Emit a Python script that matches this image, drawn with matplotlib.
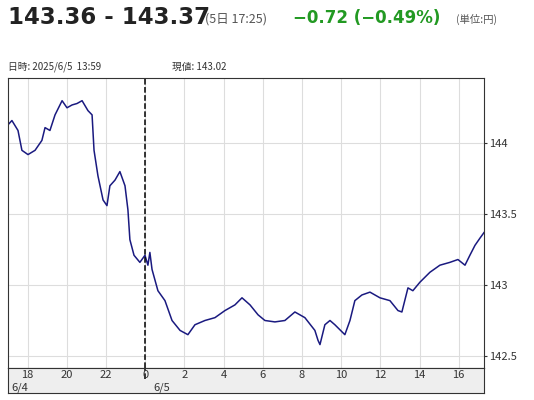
import matplotlib
matplotlib.use("Agg")
import matplotlib.pyplot as plt

plt.rcParams['font.family'] = ['Noto Sans CJK JP', 'DejaVu Sans']

# hours since 6/4 00:00 (24 = 6/5 0:00), price in yen
hours = [17.00, 17.20, 17.51, 17.71, 18.02, 18.38, 18.73, 18.89, 19.14, 19.40,
         19.76, 20.01, 20.27, 20.52, 20.78, 21.08, 21.29, 21.39, 21.59, 21.85,
         22.05, 22.20, 22.46, 22.71, 22.97, 23.12, 23.22, 23.43, 23.73, 23.99,
         24.14, 24.24, 24.35, 24.65, 25.01, 25.37, 25.78, 26.18, 26.54, 27.05,
         27.56, 28.07, 28.58, 28.94, 29.35, 29.76, 30.11, 30.62, 31.13, 31.64,
         32.15, 32.66, 32.82, 32.92, 33.17, 33.43, 33.68, 34.19, 34.45, 34.70,
         35.06, 35.47, 35.98, 36.49, 36.90, 37.10, 37.41, 37.66, 38.02, 38.53,
         39.04, 39.55, 39.96, 40.32, 40.57, 40.83, 41.08, 41.29]
price = [144.13, 144.16, 144.09, 143.95, 143.92, 143.95, 144.02, 144.11, 144.09, 144.20,
         144.30, 144.25, 144.27, 144.28, 144.30, 144.23, 144.20, 143.95, 143.77, 143.60,
         143.56, 143.70, 143.74, 143.80, 143.70, 143.53, 143.32, 143.21, 143.16, 143.21,
         143.14, 143.23, 143.11, 142.96, 142.89, 142.75, 142.68, 142.65, 142.72, 142.75,
         142.77, 142.82, 142.86, 142.91, 142.86, 142.79, 142.75, 142.74, 142.75, 142.81,
         142.77, 142.68, 142.61, 142.58, 142.72, 142.75, 142.72, 142.65, 142.75, 142.89,
         142.93, 142.95, 142.91, 142.89, 142.82, 142.81, 142.98, 142.96, 143.02, 143.09,
         143.14, 143.16, 143.18, 143.14, 143.21, 143.28, 143.33, 143.37]
xticks = [18, 20, 22, 24, 26, 28, 30, 32, 34, 36, 38, 40]
xlabels = ["18", "20", "22", "0", "2", "4", "6", "8", "10", "12", "14", "16"]
yticks = [142.5, 143.0, 143.5, 144.0]
ylabels = ["142.5", "143", "143.5", "144"]
X0, X1, Y0, Y1 = 17.0, 41.29, 142.415, 144.46

W, H = 534, 400
fig = plt.figure(figsize=(W / 100, H / 100), dpi=100)

def rect(l, t, r, b):
    return [l / W, 1 - b / H, (r - l) / W, (b - t) / H]

ax = fig.add_axes(rect(8, 78, 484, 368))
ax.plot(hours, price, color="#1a1a80", lw=1.1)
ax.set_xlim(X0, X1)
ax.set_ylim(Y0, Y1)
ax.set_xticks(xticks)
ax.set_xticklabels([])
ax.tick_params(axis="x", length=0)
ax.set_yticks(yticks)
ax.set_yticklabels(ylabels, fontsize=8, color="#333333")
ax.yaxis.tick_right()
ax.tick_params(axis="y", length=2, pad=2, colors="#333333")
ax.grid(color="#dddddd", lw=0.8)
ax.axvline(24, color="black", ls="--", lw=1.1)
for s in ax.spines.values():
    s.set_color("#333333")

band = fig.add_axes(rect(8, 368, 484, 393))
band.set_facecolor("#eeeeee")
band.set_xlim(X0, X1)
band.set_ylim(0, 1)
band.set_xticks([])
band.set_yticks([])
band.axvline(24, ymin=0.55, color="black", ls="--", lw=1.1)
for s in band.spines.values():
    s.set_color("#333333")
for x, lab in zip(xticks, xlabels):
    band.text(x, 0.72, lab, ha="center", va="center", fontsize=8, color="#333333")
band.text(17.15, 0.2, "6/4", ha="left", va="center", fontsize=8, color="#333333")
band.text(24.4, 0.2, "6/5", ha="left", va="center", fontsize=8, color="#333333")

fig.text(8 / W, 1 - 18 / H, "143.36 - 143.37", fontsize=16.5, fontweight="bold",
         color="#222222", va="center", family="DejaVu Sans")
fig.text(205 / W, 1 - 19 / H, "(5日 17:25)", fontsize=9, color="#555555", va="center")
fig.text(293 / W, 1 - 18 / H, "\u22120.72 (\u22120.49%)", fontsize=12, fontweight="bold",
         color="#229922", va="center", family="DejaVu Sans")
fig.text(456 / W, 1 - 19 / H, "(単位:円)", fontsize=7.5, color="#555555", va="center")
fig.text(8 / W, 1 - 67 / H, "日時: 2025/6/5  13:59", fontsize=7, color="#333333", va="center")
fig.text(172 / W, 1 - 67 / H, "現値: 143.02", fontsize=7, color="#333333", va="center")

fig.savefig("out.png", dpi=100)
